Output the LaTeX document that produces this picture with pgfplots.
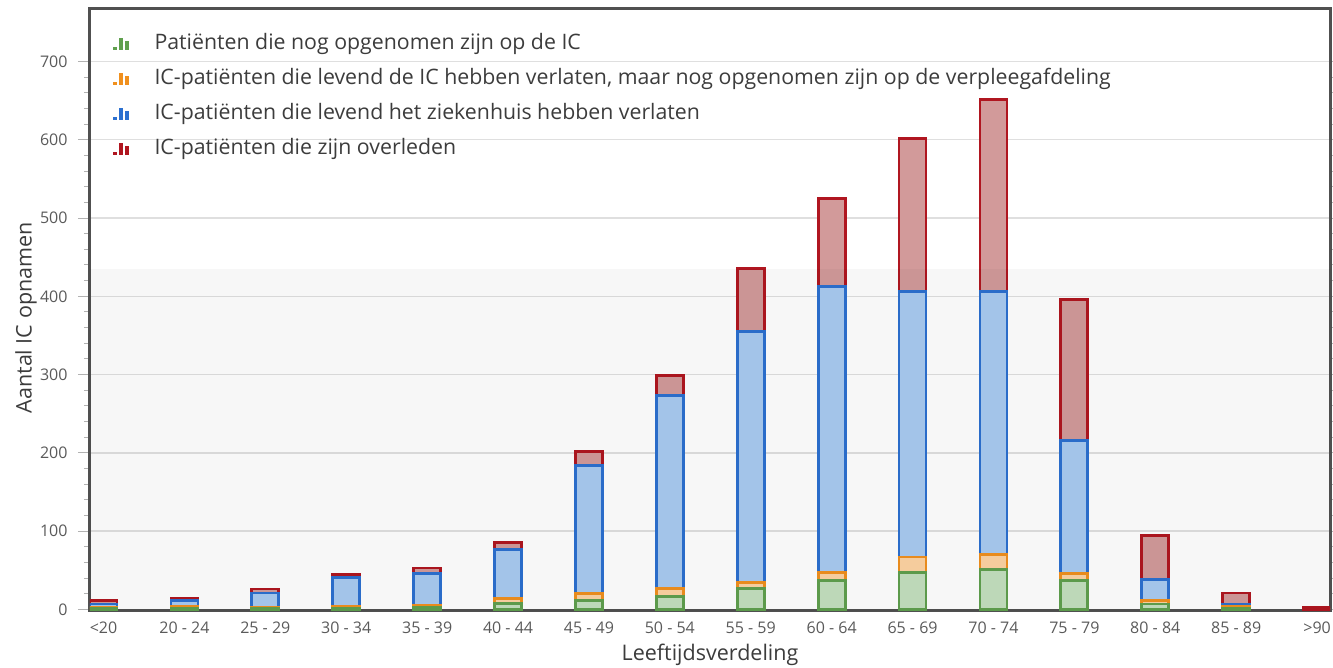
\documentclass[border=0pt]{standalone}
\usepackage{fontspec}
\setmainfont{Open Sans}
\usepackage{pgfplots}
\pgfplotsset{compat=1.18}
\usepackage{pgfplotstable}
\definecolor{gfill}{RGB}{196,224,190}
\definecolor{gdraw}{RGB}{96,160,78}
\definecolor{ofill}{RGB}{253,211,163}
\definecolor{odraw}{RGB}{240,144,30}
\definecolor{bfill}{RGB}{169,203,241}
\definecolor{bdraw}{RGB}{44,112,208}
\definecolor{rfill}{RGB}{210,154,154}
\definecolor{rdraw}{RGB}{176,22,32}
\definecolor{framegray}{RGB}{80,80,80}
\definecolor{tickgray}{RGB}{90,90,90}
\definecolor{textgray}{RGB}{60,60,60}
\pgfplotstableread{
x g o b r
0 1 2 4 4
1 1 3 7 3
2 1 2 18 5
3 1 3 37 4
4 2 3 41 7
5 8 6 63 8
6 11 9 164 18
7 17 10 246 26
8 27 7 321 81
9 37 10 365 113
10 47 20 339 196
11 51 19 336 245
12 37 9 170 180
13 7 4 27 56
14 1 3 2 15
15 0 0 0 2
}\data
\newcommand{\legicon}[1]{%
  \fill[#1, draw=none] (0pt,-6pt) rectangle (3.5pt,-2.5pt);
  \fill[#1, draw=none] (6pt,-6pt) rectangle (9.5pt,6pt);
  \fill[#1, draw=none] (12pt,-6pt) rectangle (15.5pt,3pt);}
\begin{document}
\begin{tikzpicture}
\begin{axis}[
  at={(0,0)}, anchor=south west,
  scale only axis, width=1240pt, height=602pt,
  xmin=-0.167, xmax=15.16, ymin=-2, ymax=767,
  ybar stacked, bar width=27pt,
  xtick={0,...,15},
  xticklabels={<20, 20 - 24, 25 - 29, 30 - 34, 35 - 39, 40 - 44, 45 - 49, 50 - 54, 55 - 59, 60 - 64, 65 - 69, 70 - 74, 75 - 79, 80 - 84, 85 - 89, >90},
  ytick={0,100,...,700},
  minor y tick num=4,
  ymajorgrids,
  major grid style={line width=1.5pt, color=gray!25},
  axis line style={line width=3pt, color=framegray},
  tick align=outside,
  x tick style={draw=none},
  y tick style={line width=1pt, color=gray!60},
  major tick length=12pt, minor tick length=6pt,
  tick label style={font=\fontsize{16}{18}\selectfont, text=tickgray},
  /pgf/number format/assume math mode=true,
  xticklabel style={anchor=center, yshift=-5pt},
  yticklabel style={anchor=east, xshift=-7pt},
  xlabel={Leeftijdsverdeling},
  ylabel={Aantal IC opnamen},
  label style={font=\fontsize{21.5}{24}\selectfont, text=textgray},
  xlabel style={at={(axis description cs:0.5,-0.073)}, anchor=center},
  ylabel style={at={(axis description cs:-0.0516,0.487)}, anchor=center},
  legend cell align=left,
  legend style={at={(axis description cs:0.016,0.965)}, anchor=north west, draw=none, fill=none,
    font=\fontsize{21.3}{24}\selectfont, text=textgray, row sep=11pt,
    nodes={text height=15pt, text depth=5pt, inner sep=2pt},
    /tikz/every odd column/.append style={column sep=24pt}},
]
\fill[black, fill opacity=0.03] (axis cs:-1,-5) rectangle (axis cs:17,435);
\addplot+[fill=gfill, draw=gdraw, line width=2.8pt, legend image code/.code={\legicon{gdraw}}] table[x=x,y=g]{\data};
\addlegendentry{Patiënten die nog opgenomen zijn op de IC}
\addplot+[fill=ofill, draw=odraw, line width=2.8pt, legend image code/.code={\legicon{odraw}}] table[x=x,y=o]{\data};
\addlegendentry{IC-patiënten die levend de IC hebben verlaten, maar nog opgenomen zijn op de verpleegafdeling}
\addplot+[fill=bfill, draw=bdraw, line width=2.8pt, legend image code/.code={\legicon{bdraw}}] table[x=x,y=b]{\data};
\addlegendentry{IC-patiënten die levend het ziekenhuis hebben verlaten}
\addplot+[fill=rfill, draw=rdraw, line width=2.8pt, legend image code/.code={\legicon{rdraw}}] table[x=x,y=r]{\data};
\addlegendentry{IC-patiënten die zijn overleden}
\end{axis}
\pgfresetboundingbox
\path[use as bounding box] (-90pt,-57pt) rectangle (1243pt,611pt);
\end{tikzpicture}
\end{document}
